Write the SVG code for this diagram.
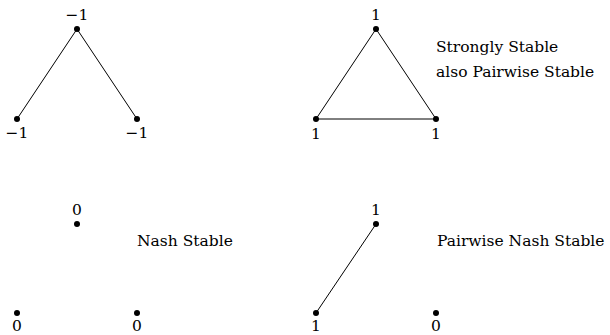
<svg xmlns="http://www.w3.org/2000/svg" width="610" height="335" viewBox="0 0 610 335">
<style>
text{font-family:'DejaVu Serif',serif;font-size:15.5px;fill:#000}
.c{text-anchor:middle}
.e{stroke:#000;stroke-width:1;fill:none}
.n{fill:#000}
</style>
<rect width="610" height="335" fill="#fff"/>
<g id="connectors">
<line class="e" x1="77" y1="29" x2="17" y2="119"/>
<line class="e" x1="77" y1="29" x2="137" y2="119"/>
<line class="e" x1="376" y1="29" x2="316" y2="119"/>
<line class="e" x1="376" y1="29" x2="436" y2="119"/>
<line class="e" x1="316" y1="119" x2="436" y2="119"/>
<line class="e" x1="376" y1="224" x2="316" y2="313"/>
</g>
<g id="g1a"><circle class="n" cx="77" cy="29" r="3"/><text class="c" x="77" y="20">−1</text></g>
<g id="g1b"><circle class="n" cx="17" cy="119" r="3"/><text class="c" x="17" y="138">−1</text></g>
<g id="g1c"><circle class="n" cx="137" cy="119" r="3"/><text class="c" x="137" y="138">−1</text></g>
<g id="g2a"><circle class="n" cx="376" cy="29" r="3"/><text class="c" x="376" y="20">1</text></g>
<g id="g2b"><circle class="n" cx="316" cy="119" r="3"/><text class="c" x="316" y="139">1</text></g>
<g id="g2c"><circle class="n" cx="436" cy="119" r="3"/><text class="c" x="436" y="139">1</text></g>
<g id="label2"><text x="436" y="52">Strongly Stable</text><text x="436" y="77">also Pairwise Stable</text></g>
<g id="g3a"><circle class="n" cx="77" cy="224" r="3"/><text class="c" x="77" y="215">0</text></g>
<g id="g3b"><circle class="n" cx="17" cy="313" r="3"/><text class="c" x="17" y="331">0</text></g>
<g id="g3c"><circle class="n" cx="137" cy="313" r="3"/><text class="c" x="137" y="331">0</text></g>
<g id="label3"><text x="137" y="246">Nash Stable</text></g>
<g id="g4a"><circle class="n" cx="376" cy="224" r="3"/><text class="c" x="376" y="215">1</text></g>
<g id="g4b"><circle class="n" cx="316" cy="313" r="3"/><text class="c" x="316" y="331">1</text></g>
<g id="g4c"><circle class="n" cx="436" cy="313" r="3"/><text class="c" x="436" y="331">0</text></g>
<g id="label4"><text x="437" y="246">Pairwise Nash Stable</text></g>
</svg>
